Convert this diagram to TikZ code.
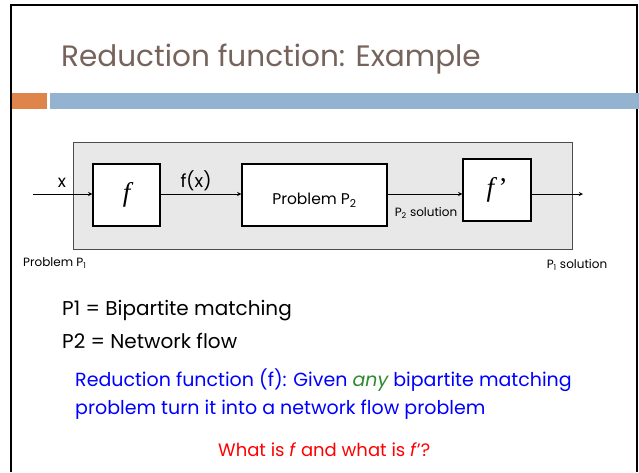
\documentclass[tikz,border=0pt]{standalone}
\usepackage{fontspec}
\setmainfont{Poppins}
\newfontfamily\fnfont{Liberation Serif}
\definecolor{titlebrown}{HTML}{76635B}
\definecolor{barorange}{HTML}{DF844A}
\definecolor{barblue}{HTML}{93B3D1}
\definecolor{boxgray}{HTML}{E8E8E8}
\definecolor{anygreen}{HTML}{2E8B2E}
\begin{document}
\begin{tikzpicture}[x=1pt,y=-1pt,>=stealth,
  fnbox/.style={draw,line width=1.3pt,fill=white,inner sep=0pt},
  lbl/.style={inner sep=0pt,anchor=west},
  flow/.style={->,line width=0.9pt}]
\useasboundingbox (0,0) rectangle (639,472);
% slide frame and header bars
\draw[line width=2.5pt] (11,472) -- (11,5) -- (637,5) -- (637,472);
\fill[barorange] (12,93) rectangle (47,109);
\fill[barblue] (50,93) rectangle (639,109);
\node[lbl,text=titlebrown,font=\fontsize{29.5}{34}\selectfont] (title) at (61,59) {Reduction function: Example};
% the reduction diagram
\draw[fill=boxgray,draw=black!70,line width=1pt] (73,142) rectangle (572,249);
\node[fnbox,minimum width=67pt,minimum height=62pt] (fbox) at (126.5,195) {\fnfont\fontsize{27}{30}\selectfont\itshape f};
\node[fnbox,minimum width=145pt,minimum height=62pt] (pbox) at (314.5,195) {\raisebox{-9.5pt}[0pt][0pt]{\fontsize{15.5}{18}\selectfont Problem P\textsubscript{2}}};
\node[fnbox,minimum width=68pt,minimum height=62pt] (fpbox) at (497,190) {\fnfont\fontsize{27}{30}\selectfont\itshape f\,\upshape’};
\coordinate (in) at (33,194);
\coordinate (out) at (583,194);
\draw[flow] (in) -- (fbox.west |- in);
\draw[flow] (fbox.east |- in) -- (pbox.west |- in);
\draw[flow] (pbox.east |- in) -- (fpbox.west |- in);
\draw[flow] (fpbox.east |- in) -- (out);
\node[font=\fontsize{17}{18}\selectfont,inner sep=0pt] (xlbl) at (62,183) {x};
\node[font=\fontsize{18}{20}\selectfont,inner sep=0pt] (fxlbl) at (196,181) {f(x)};
\node[font=\fontsize{12}{13}\selectfont,inner sep=0pt] (p2sol) at (426,213) {P\textsubscript{2} solution};
\node[lbl,font=\fontsize{12}{13}\selectfont] (p1prob) at (23,263) {Problem P\textsubscript{1}};
\node[font=\fontsize{12}{13}\selectfont,inner sep=0pt] (p1sol) at (577,265) {P\textsubscript{1} solution};
% slide text
\node[lbl,font=\fontsize{20}{22}\selectfont] (p1def) at (62,311) {P1 = Bipartite matching};
\node[lbl,font=\fontsize{20}{22}\selectfont] (p2def) at (62,341) {P2 = Network flow};
\node[lbl,text=blue,font=\fontsize{19}{21}\selectfont] (red1) at (75,380) {Reduction function (f): Given \textcolor{anygreen}{\itshape any} bipartite matching};
\node[lbl,text=blue,font=\fontsize{19}{21}\selectfont] (red2) at (75,410) {problem turn it into a network flow problem};
\node[lbl,text=red,font=\fontsize{18}{21}\selectfont] (quest) at (218,450) {What is \textit{f} and what is \textit{f}’?};
\end{tikzpicture}
\end{document}
